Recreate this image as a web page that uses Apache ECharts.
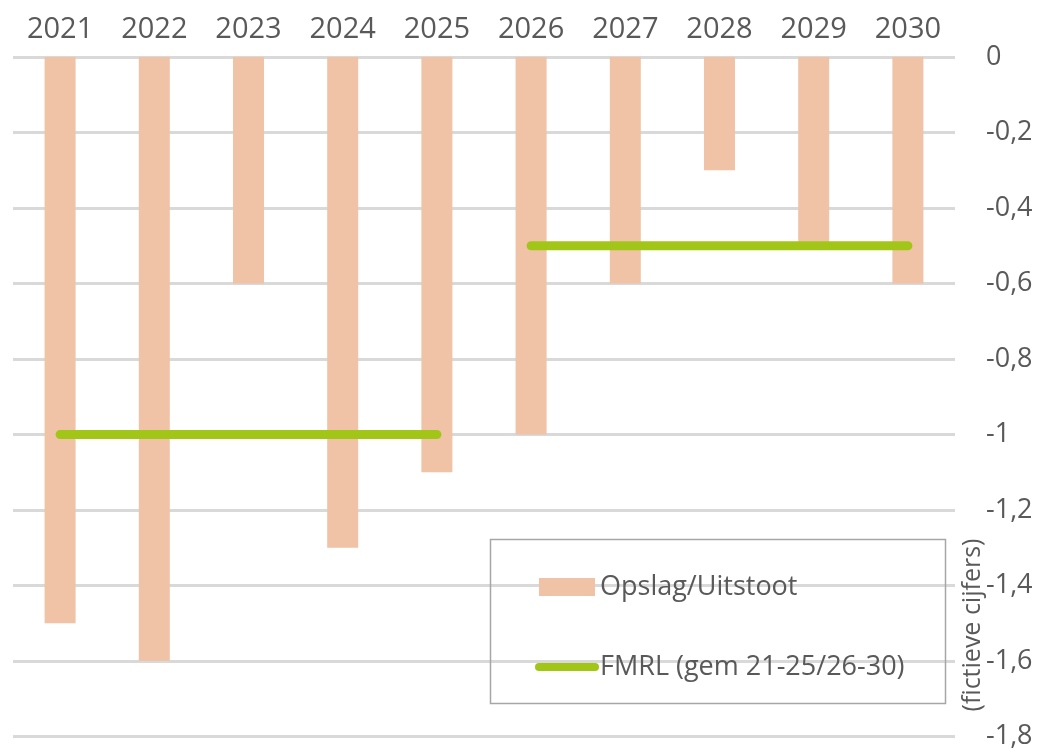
<!DOCTYPE html>
<html>
<head>
<meta charset="utf-8">
<script src="https://cdn.jsdelivr.net/npm/echarts@6/dist/echarts.min.js"></script>
<style>
html, body { margin: 0; padding: 0; background: #fff; }
#Main { width: 1037px; height: 750px; }
</style>
</head>
<body>
<div id="Main"></div>
<script>
var jaren = ['2021', '2022', '2023', '2024', '2025', '2026', '2027', '2028', '2029', '2030'];
var opslag = [-1.5, -1.6, -0.6, -1.3, -1.1, -1.0, -0.6, -0.3, -0.5, -0.6];
var fmrl1 = [-1, -1, -1, -1, -1, '-', '-', '-', '-', '-']; //gem 21-25
var fmrl2 = ['-', '-', '-', '-', '-', -0.5, -0.5, -0.5, -0.5, -0.5]; //gem 26-30

var tekstKleur = '#595959';
var groen = '#A2C617';
var font = 'Open Sans';
var lijnNaam = 'FMRL (gem 21-25/26-30)';

var myChart = echarts.init(document.getElementById('Main'));
myChart.setOption({
	animation: false,
	textStyle: { fontFamily: font, color: tekstKleur },
	grid: { left: 13, right: 82, top: 57, bottom: 13 },
	legend: {
		orient: 'vertical',
		left: 530,
		top: 565,
		itemGap: 46,
		itemWidth: 56,
		itemHeight: 18,
		textStyle: { fontFamily: font, fontSize: 27, color: tekstKleur, lineHeight: 34 },
		data: [
			{ name: 'Opslag/Uitstoot', icon: 'rect' },
			{
				name: lijnNaam,
				itemStyle: { color: 'rgba(0,0,0,0)', borderColor: 'rgba(0,0,0,0)', borderWidth: 0 },
				lineStyle: { color: groen, width: 8, cap: 'round' }
			}
		]
	},
	graphic: [
		{
			type: 'rect',
			shape: { x: 490.5, y: 539.5, width: 455, height: 164 },
			style: { fill: 'none', stroke: '#A6A6A6', lineWidth: 1.5 },
			z: 1
		},
		{
			type: 'text',
			x: 973,
			y: 625,
			rotation: Math.PI / 2,
			style: {
				text: '(fictieve cijfers)',
				fontFamily: font,
				fontSize: 25,
				fill: tekstKleur,
				align: 'center',
				verticalAlign: 'middle'
			},
			z: 10
		}
	],
	xAxis: {
		type: 'category',
		position: 'top',
		data: jaren,
		axisLine: { show: false },
		axisTick: { show: false },
		axisLabel: { fontSize: 29, color: tekstKleur, margin: 13, fontFamily: font }
	},
	yAxis: {
		type: 'value',
		position: 'right',
		min: -1.8,
		max: 0,
		interval: 0.2,
		axisLine: { show: false },
		axisTick: { show: false },
		axisLabel: {
			fontSize: 27,
			color: tekstKleur,
			margin: 31,
			fontFamily: font,
			formatter: function(v) {
				return String(Math.round(v * 10) / 10).replace('.', ',');
			}
		},
		splitLine: { lineStyle: { color: '#D9D9D9', width: 3 } }
	},
	series: [
		{
			name: 'Opslag/Uitstoot',
			type: 'bar',
			barWidth: 31,
			itemStyle: { color: '#F0C2A6' },
			data: opslag,
			z: 2
		},
		{
			name: lijnNaam,
			type: 'line',
			symbol: 'none',
			lineStyle: { color: groen, width: 9, cap: 'round' },
			itemStyle: { color: groen },
			data: fmrl1,
			z: 3
		},
		{
			name: lijnNaam,
			type: 'line',
			symbol: 'none',
			lineStyle: { color: groen, width: 9, cap: 'round' },
			itemStyle: { color: groen },
			data: fmrl2,
			z: 3
		}
	]
});
</script>
</body>
</html>
